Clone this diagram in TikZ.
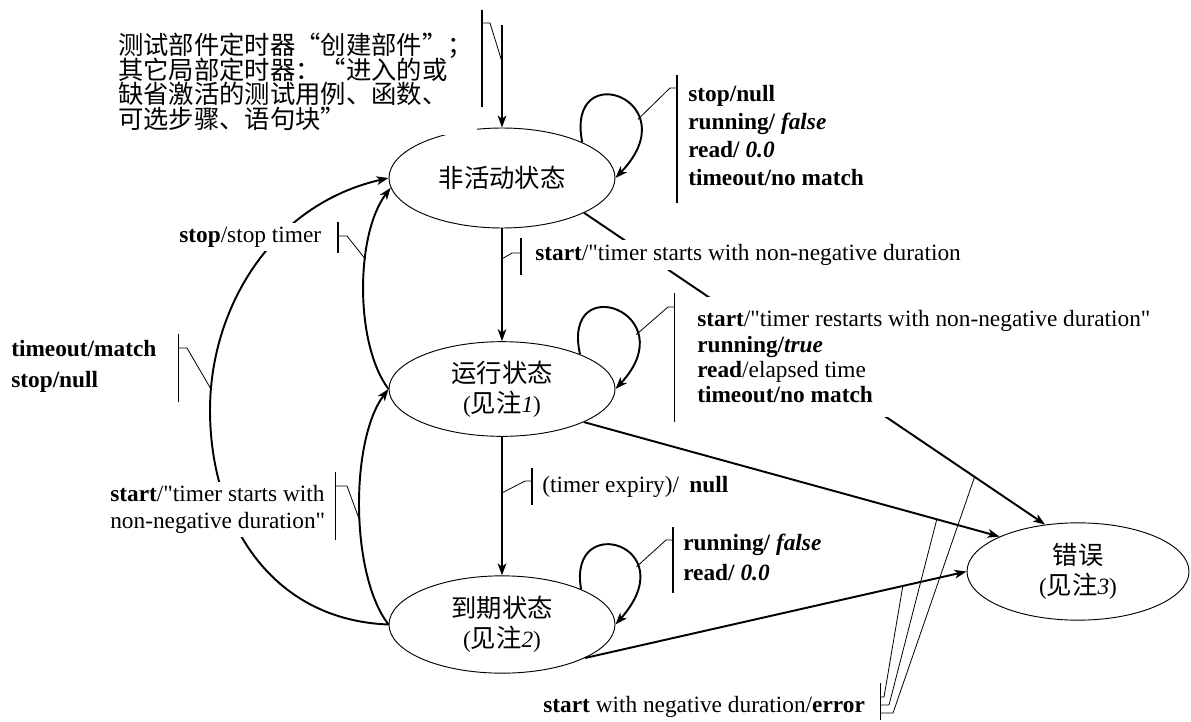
\documentclass[tikz,border=0pt]{standalone}
\usepackage{fontspec}
\setmainfont{Liberation Serif}[Ligatures=TeXOff]
\newfontfamily\cjk{Noto Sans CJK SC}
\usetikzlibrary{arrows.meta,shapes.geometric}
\setlength{\lineskiplimit}{-50pt}
\newcommand\zh[1]{{\cjk\fontsize{19}{22.5}\selectfont #1}}
\begin{document}
\begin{tikzpicture}[x=0.75pt,y=-0.75pt,
  state/.style={draw,ellipse,line width=0.7pt,minimum width=169.5pt,minimum height=73pt,inner sep=0pt,align=center,font=\fontsize{17.5}{22.5}\selectfont},
  conn/.style={line width=1.45pt,-{Stealth[length=9pt,width=6.5pt,inset=2.5pt]}},
  lead/.style={line width=0.6pt},
  barthick/.style={line width=1.5pt},
  barthin/.style={line width=0.7pt},
  lbl/.style={fill=white,inner sep=3pt,anchor=west,align=left,font=\fontsize{17.5}{21}\selectfont},
]
\useasboundingbox (0,0) rectangle (1191,721);

% states
\node[state,minimum height=75pt] (A) at (502,178) {\zh{非活动状态}};
\node[state,minimum height=71pt] (B) at (502,389) {\zh{运行状态}\\(\zh{见注}\textit{1})};
\node[state,minimum height=73pt] (C) at (502,624.5) {\zh{到期状态}\\(\zh{见注}\textit{2})};
\node[state,minimum width=166.5pt,minimum height=73pt] (D) at (1078,571.5) {\zh{错误}\\(\zh{见注}\textit{3})};
\coordinate (init) at (502,25);

% connectors
\draw[conn] (init) -- (A.north) coordinate[pos=0.36] (iL);
\draw[conn] (A.south) -- (B.north) coordinate[pos=0.27] (abL);
\draw[conn] (B.south) -- (C.north) coordinate[pos=0.405] (bcL);
\draw[conn] (A.24) .. controls (565,55) and (690,100) .. (A.east) coordinate[pos=0.7] (aL);
\draw[conn] (B.24) .. controls (561,268) and (686,313) .. (B.east) coordinate[pos=0.72] (bL);
\draw[conn] (C.24) .. controls (567,510) and (686,545) .. (C.east) coordinate[pos=0.7] (cL);
\draw[conn] (B.west) .. controls (355,345) and (355,235) .. (A.185) coordinate[pos=0.63] (stL);
\draw[conn] (C.west) .. controls (350,575) and (350,440) .. (B.west) coordinate[pos=0.45] (sL);
\draw[conn] (C.west) .. controls (270,620) and (210,520) .. (210,410) .. controls (210,310) and (270,205) .. (A.west) coordinate[pos=0.07] (tmL);
\draw[conn] (A.-23) -- (D.125) coordinate[pos=0.847] (e3);
\draw[conn] (B.-22) -- (D.156) coordinate[pos=0.849] (e2);
\draw[conn] (C.-22) -- (D.west) coordinate[pos=0.833] (e1);

% labels
\node[lbl] (lA) at (684,135.5) {\textbf{stop/null}\\\textbf{running/ \textit{false}}\\\textbf{read/ \textit{0.0}}\\\textbf{timeout/no match}};
\node[lbl] (lAB) at (531,255) {\textbf{start}/"timer starts with non-negative duration};
\node[lbl,inner ysep=10pt,font=\fontsize{17.5}{19}\selectfont] (lB) at (693,357) {\textbf{start}/"timer restarts with non-negative duration"\\\textbf{running/\textit{true}}\\\textbf{read}/elapsed time\\\textbf{timeout/no match}};
\node[lbl] (lStop) at (175,237) {\textbf{stop}/stop timer};
\node[lbl,font=\fontsize{17.5}{23}\selectfont] (lTM) at (7,366.5) {\textbf{timeout/match}\\\textbf{stop/null}};
\node[lbl,font=\fontsize{17.5}{20}\selectfont] (lS) at (106,509.5) {\textbf{start}/"timer starts with\\non-negative duration"};
\node[lbl] (lBC) at (538,487) {(timer expiry)/\hspace{0.45em}\textbf{null}};
\node[lbl,font=\fontsize{17.5}{22}\selectfont] (lC) at (679,557.5) {\textbf{running/ \textit{false}}\\\textbf{read/ \textit{0.0}}};
\node[lbl] (lE) at (539,707) {\textbf{start} with negative duration/\textbf{error}};
\node[lbl,font=\cjk\fontsize{19}{18.5}\selectfont] (note) at (114,82) {测试部件定时器“创建部件”；\\其它局部定时器：“进入的或\\缺省激活的测试用例、函数、\\可选步骤、语句块”};

% bracket coordinates
\coordinate (b1t) at (482,10);  \coordinate (b1b) at (482,107); \coordinate (b1m) at (482,23);  \coordinate (b1k) at (490,23);
\coordinate (b2t) at (677,75);  \coordinate (b2b) at (677,203); \coordinate (b2m) at (677,88);  \coordinate (b2k) at (670,88);
\coordinate (b3t) at (521,238); \coordinate (b3b) at (521,275); \coordinate (b3m) at (521,253); \coordinate (b3k) at (512,253);
\coordinate (b4t) at (338,222); \coordinate (b4b) at (338,253); \coordinate (b4m) at (338,236); \coordinate (b4k) at (347,236);
\coordinate (b5t) at (178,334); \coordinate (b5b) at (178,402); \coordinate (b5m) at (178,348); \coordinate (b5k) at (187,348);
\coordinate (b6t) at (335,472); \coordinate (b6b) at (335,540); \coordinate (b6m) at (335,486); \coordinate (b6k) at (347,486);
\coordinate (b7t) at (674,293); \coordinate (b7b) at (674,422); \coordinate (b7m) at (674,307); \coordinate (b7k) at (668,307);
\coordinate (b8t) at (532,468); \coordinate (b8b) at (532,505); \coordinate (b8m) at (532,481); \coordinate (b8k) at (525,481);
\coordinate (b9t) at (673,527); \coordinate (b9b) at (673,593); \coordinate (b9m) at (673,540); \coordinate (b9k) at (666,540);
\coordinate (b10t) at (880,683); \coordinate (b10b) at (880,720);
\coordinate (b10m1) at (880,697); \coordinate (b10k1) at (884,697);
\coordinate (b10m2) at (880,705); \coordinate (b10k2) at (889,705);
\coordinate (b10m3) at (880,713); \coordinate (b10k3) at (893,713);

% brackets and leaders
\draw[barthick] (b1t) -- (b1b);  \draw[lead] (b1m) -- (b1k) -- (iL);
\draw[barthick] (b2t) -- (b2b);  \draw[lead] (b2m) -- (b2k) -- (aL);
\draw[barthick] (b3t) -- (b3b);  \draw[lead] (b3m) -- (b3k) -- (abL);
\draw[barthick] (b4t) -- (b4b);  \draw[lead] (b4m) -- (b4k) -- (stL);
\draw[barthin] (b5t) -- (b5b);   \draw[lead] (b5m) -- (b5k) -- (tmL);
\draw[barthin] (b6t) -- (b6b);   \draw[lead] (b6m) -- (b6k) -- (sL);
\draw[barthin] (b7t) -- (b7b);   \draw[lead] (b7m) -- (b7k) -- (bL);
\draw[barthick] (b8t) -- (b8b);  \draw[lead] (b8m) -- (b8k) -- (bcL);
\draw[barthick] (b9t) -- (b9b);  \draw[lead] (b9m) -- (b9k) -- (cL);
\draw[barthin] (b10t) -- (b10b);
\draw[lead] (b10m1) -- (b10k1) -- (e1);
\draw[lead] (b10m2) -- (b10k2) -- (e2);
\draw[lead] (b10m3) -- (b10k3) -- (e3);
\end{tikzpicture}
\end{document}
